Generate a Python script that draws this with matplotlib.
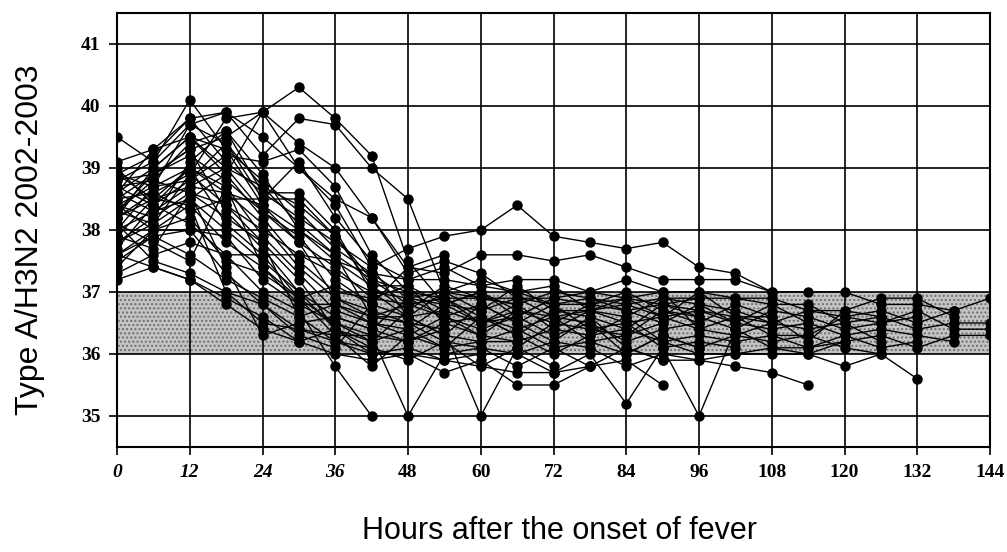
import matplotlib
matplotlib.use("Agg")
import matplotlib.pyplot as plt

# ================== DONNÉES ==================
hours = [0, 6, 12, 18, 24, 30, 36, 42, 48, 54, 60, 66, 72, 78, 84, 90, 96,
         102, 108, 114, 120, 126, 132, 138, 144]
xticks = [0, 12, 24, 36, 48, 60, 72, 84, 96, 108, 120, 132, 144]
yticks = [35, 36, 37, 38, 39, 40, 41]
normal_band = [36, 37]

# one list per patient, temperature every 6 h from onset (°C)
p01 = [38.9, 39.2, 39.8, 39.1, 38.6, 38.2, 37.8, 37.4, 37.7, 37.9, 38.0, 38.4, 37.9,
       37.8, 37.7, 37.8, 37.4, 37.3, 37.0, 37.0, 37.0, 36.8, 36.8, 36.7, 36.9]
p02 = [38.2, 38.6, 38.9, 38.4, 38.0, 37.6, 37.3, 37.0, 36.9, 36.8, 36.7, 36.9, 36.6,
       36.7, 36.5, 36.6, 36.4, 36.6, 36.5, 36.4, 36.5, 36.6, 36.4, 36.5, 36.5]
p03 = [37.8, 38.1, 38.5, 38.0, 37.5, 37.0, 36.6, 36.4, 36.2, 36.5, 36.3, 36.2, 36.4,
       36.3, 36.6, 36.2, 36.3, 36.2, 36.3, 36.1, 36.2, 36.3, 36.1, 36.3, 36.3]
p04 = [38.5, 38.9, 39.2, 38.8, 38.3, 37.9, 37.2, 36.8, 36.6, 36.3, 36.8, 36.5, 36.8,
       36.4, 36.3, 36.7, 36.6, 36.4, 36.7, 36.6, 36.4, 36.5, 36.7, 36.4, 36.4]
p05 = [38.0, 38.3, 38.7, 39.0, 38.7, 38.4, 37.9, 37.2, 37.0, 36.7, 36.5, 36.7, 36.5,
       36.8, 36.7, 36.5, 36.8, 36.7, 36.5, 36.7, 36.6, 36.7, 36.5, 36.7]
p06 = [37.6, 38.0, 38.2, 37.5, 37.3, 36.9, 36.5, 36.2, 36.4, 36.1, 36.2, 36.4, 36.1,
       36.2, 36.0, 36.3, 36.1, 36.3, 36.2, 36.3, 36.1, 36.0, 35.6]
p07 = [38.7, 38.4, 39.0, 38.6, 38.1, 37.4, 36.9, 36.6, 36.8, 36.9, 36.6, 36.3, 36.7,
       36.6, 36.4, 36.8, 36.7, 36.5, 36.4, 36.5, 36.3, 36.4, 36.3, 36.2]
p08 = [37.9, 38.5, 38.4, 37.8, 37.4, 36.8, 36.8, 36.5, 36.3, 36.6, 36.4, 36.6, 36.3,
       36.5, 36.2, 36.4, 36.5, 36.8, 36.6, 36.2, 36.7, 36.9, 36.9, 36.6]
p09 = [38.3, 38.8, 39.4, 39.6, 38.9, 38.0, 37.5, 37.1, 36.7, 37.1, 36.9, 36.8, 37.0,
       36.9, 36.8, 36.9, 36.9, 36.9, 36.8, 36.8, 36.5, 36.2]
p10 = [38.4, 38.2, 38.6, 38.2, 37.8, 37.2, 36.4, 36.0, 36.1, 35.9, 36.0, 36.0, 36.2,
       36.1, 35.8, 36.0, 35.9, 36.0, 36.0, 36.0, 35.8, 36.0]
p11 = [37.5, 37.9, 37.6, 37.2, 36.9, 36.6, 36.2, 36.1, 35.9, 36.2, 35.8, 35.7, 35.7,
       35.8, 36.1, 35.9, 35.9, 35.8, 35.7, 35.5]
p12 = [39.1, 39.3, 39.8, 39.9, 39.5, 39.0, 38.5, 38.2, 37.4, 37.3, 37.6, 37.6, 37.5,
       37.6, 37.4, 37.2, 37.2, 37.2, 37.0]
p13 = [38.6, 39.0, 39.5, 39.3, 38.8, 38.3, 37.7, 37.3, 37.2, 37.4, 37.1, 37.2, 37.2,
       37.0, 37.2, 37.0, 37.0, 36.9, 36.9, 36.7, 36.7, 36.6]
p14 = [37.2, 37.4, 37.2, 36.8, 36.4, 36.2, 36.0, 35.9, 36.0, 35.7, 35.9, 35.5, 35.5,
       35.8, 35.9, 35.5]
p15 = [38.1, 37.5, 37.3, 37.0, 36.5, 36.4, 36.3, 36.3, 35.0, 36.0, 36.1, 36.0, 35.7,
       36.0, 35.2, 36.1, 35.0, 36.4, 36.1, 36.0, 36.2]
p16 = [39.5, 39.1, 40.1, 39.3, 38.4, 37.8, 36.9, 36.7, 36.5, 36.4, 35.0, 36.1, 36.5,
       36.4, 36.5, 36.1, 36.2, 36.1]
p17 = [38.8, 38.9, 39.3, 39.5, 39.9, 40.3, 39.8, 39.2, 37.5, 36.8, 37.0, 36.6, 36.9,
       37.0, 36.9, 36.6, 37.0, 36.6, 36.6]
p18 = [38.9, 38.7, 39.7, 39.9, 39.2, 39.8, 39.7, 39.0, 38.5, 37.0, 36.7, 37.1, 36.7,
       36.7, 36.9, 36.8, 36.6]
p19 = [38.3, 38.1, 38.9, 39.8, 39.9, 39.4, 39.0, 38.2, 37.3, 37.5, 37.3, 36.9, 36.9,
       36.8, 37.0, 36.7, 36.5]
p20 = [37.7, 38.4, 38.8, 39.2, 39.1, 39.3, 38.7, 37.6, 37.0, 36.9, 36.5, 36.8, 36.4,
       36.7, 36.6, 36.9, 36.8, 36.5, 36.8, 36.5]
p21 = [38.5, 38.6, 38.3, 38.5, 38.5, 39.1, 38.2, 37.5, 37.2, 37.2, 37.1, 37.0, 37.1,
       36.7, 36.8, 36.6, 36.7, 36.6, 36.3, 36.3, 36.6, 36.5, 36.6]
p22 = [38.0, 38.7, 39.0, 38.1, 37.6, 36.9, 36.3, 35.8, 36.3, 36.1, 36.6, 36.3, 36.0,
       36.3, 36.4, 36.2, 36.0, 36.0, 36.1, 36.1, 36.3, 36.1, 36.2]
p23 = [39.0, 38.4, 38.1, 37.6, 37.0, 36.7, 35.8, 35.0]
p24 = [38.2, 39.0, 39.5, 38.9, 38.2, 37.5, 37.0, 36.9, 36.8, 36.6, 36.3, 36.7, 36.6,
       36.2, 36.3, 36.5]
p25 = [38.7, 38.8, 38.6, 37.4, 36.3, 36.5, 36.6, 36.4, 36.9, 36.6, 36.8, 36.5, 36.2,
       36.6, 36.1, 35.9]
p26 = [37.8, 38.2, 39.1, 39.6, 38.6, 38.6, 38.0, 37.0, 36.6, 37.0, 36.9, 36.9, 36.8,
       36.9, 36.7, 36.8, 36.9]
p27 = [38.6, 39.3, 39.5, 39.0, 38.3, 37.8, 37.4, 36.9, 37.1, 36.5, 36.6, 36.4, 36.6,
       36.5, 36.0, 36.3, 36.1]
p28 = [37.9, 37.7, 38.6, 38.4, 37.8, 36.6, 36.8, 36.6, 36.5, 36.2, 36.1, 35.8, 36.1, 35.8]
p29 = [38.4, 38.0, 38.4, 37.0, 36.8, 36.4, 36.2, 36.0, 36.0, 35.9, 35.8, 36.1, 35.8]
p30 = [38.1, 37.8, 37.5, 38.7, 37.9, 37.3, 36.7, 36.5, 36.4, 36.8, 36.5, 36.6, 36.9]
p31 = [38.8, 39.1, 39.7, 39.4, 38.7, 38.1, 37.6, 37.2, 36.8, 36.9, 36.9, 36.8]
p32 = [37.4, 38.0, 38.0, 37.9, 37.2, 36.8, 36.5, 36.3, 36.2, 36.4]
p33 = [38.3, 38.9, 39.3, 38.3, 37.7, 37.0, 36.4, 36.2, 36.7]
p34 = [37.6, 37.9, 38.0, 37.3, 36.8, 36.3, 36.1, 36.8]
p35 = [38.9, 38.5, 39.0, 38.7, 37.4, 36.9, 37.1, 36.8, 37.4, 37.6]
p36 = [37.3, 37.6, 37.8, 37.6, 37.6, 37.6, 37.5, 37.3, 36.9, 37.0, 37.2, 37.0, 36.8,
       36.8, 36.9, 37.0, 36.4, 36.3, 36.5]
p37 = [38.6, 38.3, 38.5, 38.9, 39.9, 39.0, 38.4, 37.4, 36.6, 36.7]
p38 = [38.4, 38.7, 38.8, 39.4, 38.5, 38.5, 37.9, 37.1, 37.1, 36.8, 37.0, 36.7]
p39 = [37.6, 37.4, 37.2, 36.9, 36.6, 36.2, 36.4, 36.1]
p40 = [38.2, 38.5, 38.7, 38.6, 38.4, 38.0, 37.6, 36.6, 36.6, 36.3, 36.2, 36.2]

patients = [p01, p02, p03, p04, p05, p06, p07, p08, p09, p10, p11, p12, p13, p14,
            p15, p16, p17, p18, p19, p20, p21, p22, p23, p24, p25, p26, p27, p28,
            p29, p30, p31, p32, p33, p34, p35, p36, p37, p38, p39, p40]


# ================== GRAPHIQUE ==================
fig = plt.figure(figsize=(10.07, 5.52), dpi=100)
ax = fig.add_axes([117 / 1007, 105 / 552, 873 / 1007, 434 / 552])

# bande de température normale (grisée, aspect tramé)
ax.axhspan(normal_band[0], normal_band[1], facecolor='#c4c4c4', edgecolor='#6e6e6e',
           hatch='....', linewidth=0, zorder=0)

for p in patients:
    ax.plot(hours[:len(p)], p, '-o', color='black', linewidth=1.0,
            markersize=6.5, zorder=3)

ax.set_xlim(0, 144)
ax.set_ylim(34.5, 41.5)
ax.set_xticks(xticks)
ax.set_yticks(yticks)
ax.grid(True, color='black', linewidth=1.2, zorder=1)
ax.set_axisbelow(True)
for s in ax.spines.values():
    s.set_linewidth(1.5)

ax.tick_params(direction='out', length=6, width=1.2, pad=6)
ax.set_xticklabels([str(v) for v in xticks], fontfamily='Liberation Serif',
                   fontweight='bold', fontsize=14)
ax.set_yticklabels([str(v) for v in yticks], fontfamily='Liberation Serif',
                   fontweight='bold', fontsize=14)
for lab in ax.get_xticklabels()[:4]:
    lab.set_fontstyle('italic')

ax.set_ylabel("Type A/H3N2 2002-2003", fontfamily='Liberation Sans', fontsize=23)
ax.yaxis.set_label_coords(-0.082, 0.477)
ax.set_xlabel("Hours after the onset of fever", fontfamily='Liberation Sans', fontsize=22)
ax.xaxis.set_label_coords(0.507, -0.16)

fig.savefig("out.png", dpi=100)
